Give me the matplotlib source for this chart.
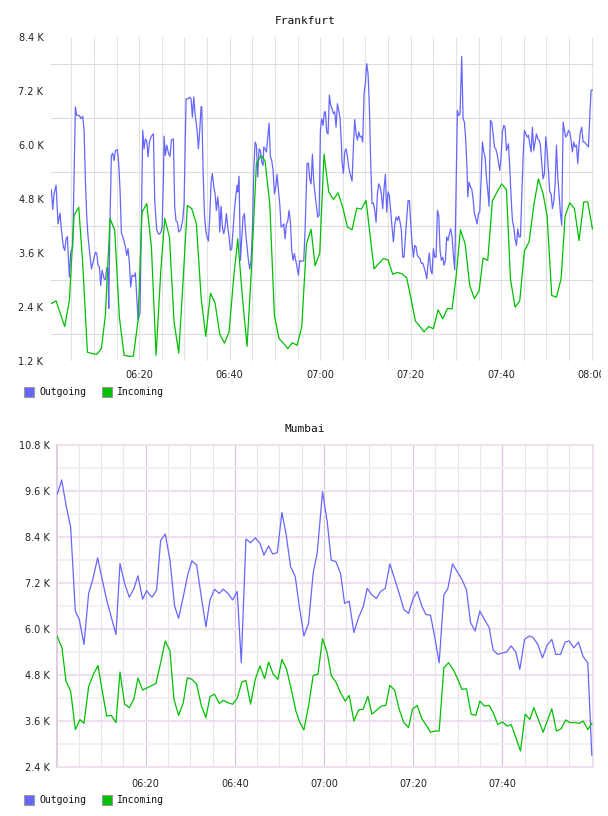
import matplotlib
matplotlib.use('Agg')
import matplotlib.pyplot as plt
from matplotlib.patches import Rectangle
from matplotlib.transforms import Bbox

# minutes after 06:00, traffic in thousands
frankfurt_out = [
    (0.59, 5.00), (0.88, 4.56), (1.18, 4.91), (1.62, 5.10), (2.06, 4.24), (2.50, 4.48), (2.80, 4.10),
    (3.24, 3.73), (3.53, 3.65), (3.83, 3.91), (4.12, 3.96), (4.56, 3.06), (4.86, 3.61), (5.30, 3.73),
    (5.89, 6.84), (6.19, 6.65), (6.78, 6.65), (7.07, 6.58), (7.51, 6.63), (7.81, 6.32), (8.10, 5.21),
    (8.40, 4.39), (8.69, 3.95), (8.99, 3.65), (9.43, 3.24), (9.87, 3.43), (10.31, 3.61), (10.61, 3.59),
    (10.90, 3.32), (11.19, 3.28), (11.49, 2.87), (11.78, 3.21), (12.23, 3.02), (12.52, 3.00), (12.82, 3.27),
    (13.11, 3.24), (13.26, 2.36), (13.55, 4.39), (13.85, 5.76), (14.14, 5.81), (14.44, 5.65), (14.73, 5.87),
    (15.17, 5.89), (15.47, 5.58), (15.76, 4.99), (16.06, 4.04), (16.50, 3.91), (16.94, 3.73), (17.24, 3.54),
    (17.53, 3.69), (17.83, 3.36), (18.12, 2.84), (18.41, 3.10), (18.86, 3.07), (19.15, 3.15), (19.45, 2.61),
    (19.74, 2.11), (20.18, 2.28), (20.77, 6.32), (21.07, 5.91), (21.36, 6.13), (21.66, 6.08), (21.95, 5.73),
    (22.25, 6.06), (22.69, 6.19), (23.13, 6.24), (23.42, 4.76), (23.87, 4.10), (24.31, 4.01), (24.75, 4.04),
    (25.05, 4.17), (25.34, 5.21), (25.49, 6.19), (25.78, 5.76), (26.08, 5.99), (26.52, 5.79), (26.81, 5.74),
    (27.11, 6.10), (27.55, 6.13), (27.84, 4.61), (28.14, 4.30), (28.43, 4.28), (28.73, 4.06), (29.17, 4.11),
    (29.61, 4.33), (29.91, 4.69), (30.35, 7.02), (30.87, 7.02), (31.16, 7.06), (31.46, 7.02), (31.75, 6.61),
    (32.05, 7.06), (32.34, 6.69), (32.78, 6.32), (33.08, 5.91), (33.37, 6.32), (33.67, 6.84), (33.81, 6.85),
    (34.11, 5.43), (34.40, 4.47), (34.70, 4.10), (34.99, 3.95), (35.29, 3.86), (35.58, 4.39), (35.88, 5.17),
    (36.17, 5.36), (36.47, 5.06), (36.76, 4.91), (37.05, 4.54), (37.35, 4.84), (37.64, 4.54), (37.79, 4.06),
    (38.09, 4.63), (38.38, 4.17), (38.68, 4.02), (38.97, 4.17), (39.26, 4.47), (39.56, 4.17), (39.85, 3.95),
    (40.15, 3.65), (40.44, 3.69), (40.74, 4.10), (41.03, 4.54), (41.33, 4.84), (41.62, 5.10), (41.77, 4.95),
    (42.06, 5.30), (42.36, 3.43), (42.65, 3.91), (42.95, 4.39), (43.24, 4.47), (43.54, 4.02), (43.83, 3.73),
    (44.13, 3.43), (44.42, 3.24), (44.72, 3.43), (45.01, 4.10), (45.31, 5.43), (45.60, 6.06), (45.89, 5.99),
    (46.19, 5.28), (46.48, 5.91), (46.78, 5.87), (47.07, 5.61), (47.37, 5.54), (47.52, 5.95), (47.81, 5.91),
    (48.11, 5.84), (48.40, 6.17), (48.69, 6.48), (48.99, 5.73), (49.28, 5.65), (49.58, 5.43), (49.87, 4.91),
    (50.17, 5.06), (50.46, 5.34), (50.76, 4.99), (51.05, 4.69), (51.35, 4.17), (51.64, 4.19), (51.94, 4.24),
    (52.23, 3.91), (52.53, 4.24), (52.82, 4.30), (53.11, 4.54), (53.41, 4.28), (53.70, 3.65), (54.00, 3.43),
    (54.29, 3.58), (54.59, 3.43), (54.88, 3.28), (55.18, 3.10), (55.47, 3.43), (55.77, 3.41), (56.06, 3.41),
    (56.36, 3.43), (56.65, 4.10), (57.09, 5.58), (57.39, 5.59), (57.68, 5.24), (57.98, 5.13), (58.27, 5.79),
    (58.57, 5.17), (59.01, 4.76), (59.45, 4.39), (59.75, 4.43), (60.04, 6.32), (60.33, 6.58), (60.63, 6.43),
    (60.92, 6.73), (61.14, 6.73), (61.43, 6.28), (61.73, 6.24), (62.02, 7.10), (62.32, 6.87), (62.61, 6.80),
    (62.91, 6.69), (63.20, 6.73), (63.50, 6.39), (63.79, 6.91), (64.09, 6.76), (64.38, 6.58), (64.67, 6.02),
    (64.82, 5.61), (65.12, 5.36), (65.41, 5.84), (65.71, 5.91), (66.00, 5.73), (66.30, 5.50), (66.59, 5.36),
    (67.03, 5.19), (67.33, 5.95), (67.62, 6.56), (67.92, 6.24), (68.21, 6.10), (68.51, 6.28), (68.80, 6.17),
    (69.09, 6.19), (69.39, 6.06), (69.68, 7.13), (69.98, 7.36), (70.27, 7.80), (70.57, 7.58), (70.86, 6.84),
    (71.16, 5.58), (71.45, 4.69), (71.75, 4.70), (72.04, 4.54), (72.34, 4.28), (72.63, 4.91), (72.93, 5.13),
    (73.22, 5.06), (73.51, 4.91), (73.81, 4.58), (74.10, 5.02), (74.40, 5.34), (74.69, 4.50), (74.99, 4.95),
    (75.28, 4.87), (75.58, 4.50), (75.87, 4.17), (76.17, 3.84), (76.46, 4.21), (76.76, 4.39), (77.05, 4.32),
    (77.35, 4.41), (77.64, 4.28), (77.93, 4.10), (78.23, 3.50), (78.52, 3.50), (78.82, 3.95), (79.11, 4.36),
    (79.41, 4.76), (79.70, 4.76), (80.00, 4.28), (80.29, 3.80), (80.59, 3.50), (80.88, 3.76), (81.18, 3.73),
    (81.47, 3.54), (81.77, 3.50), (82.06, 3.47), (82.35, 3.36), (82.65, 3.37), (82.94, 3.28), (83.24, 3.17),
    (83.53, 3.02), (83.83, 3.36), (84.12, 3.59), (84.42, 3.21), (84.71, 3.13), (85.01, 3.69), (85.30, 3.50),
    (85.60, 3.50), (85.89, 4.54), (86.19, 4.43), (86.48, 3.65), (86.77, 3.43), (87.07, 3.50), (87.36, 3.32),
    (87.66, 3.43), (87.95, 3.95), (88.25, 3.87), (88.54, 4.02), (88.84, 4.13), (89.13, 3.95), (89.43, 3.54),
    (89.72, 3.22), (90.02, 5.02), (90.31, 6.76), (90.60, 6.65), (90.90, 6.69), (91.27, 7.96), (91.57, 6.58),
    (91.86, 6.50), (92.16, 6.10), (92.45, 5.43), (92.60, 4.84), (92.89, 5.17), (93.19, 5.06), (93.48, 5.02),
    (93.78, 4.80), (94.07, 4.47), (94.37, 4.36), (94.66, 4.24), (94.96, 4.47), (95.25, 4.50), (95.55, 5.21),
    (95.84, 6.06), (96.14, 5.84), (96.43, 5.73), (96.72, 5.28), (97.02, 4.99), (97.31, 4.63), (97.61, 6.54),
    (97.90, 6.50), (98.20, 6.24), (98.49, 5.95), (98.79, 5.91), (99.08, 5.80), (99.38, 5.61), (99.67, 5.43),
    (99.97, 5.73), (100.26, 6.28), (100.56, 6.43), (100.85, 6.39), (101.15, 5.87), (101.59, 6.02), (101.88, 5.50),
    (102.18, 4.84), (102.47, 4.32), (102.77, 4.17), (103.06, 3.91), (103.36, 3.76), (103.65, 4.13), (103.94, 3.95),
    (104.24, 3.95), (104.53, 4.84), (104.83, 5.73), (105.12, 6.32), (105.42, 6.24), (105.71, 6.17), (106.01, 6.21),
    (106.30, 6.02), (106.60, 5.84), (106.89, 6.39), (107.19, 5.87), (107.48, 6.06), (107.78, 6.24), (108.07, 6.13),
    (108.36, 6.10), (108.66, 5.99), (108.95, 5.58), (109.25, 5.24), (109.54, 5.36), (109.84, 6.17), (110.13, 5.87),
    (110.43, 5.43), (110.72, 4.95), (111.02, 4.91), (111.31, 4.58), (111.61, 4.73), (111.90, 5.10), (112.20, 5.99),
    (112.49, 5.28), (112.78, 4.91), (113.08, 4.47), (113.37, 4.21), (113.67, 6.50), (113.96, 6.32), (114.26, 6.17),
    (114.55, 6.21), (114.85, 6.32), (115.14, 6.28), (115.44, 6.10), (115.73, 5.84), (116.03, 6.06), (116.32, 5.95),
    (116.62, 5.99), (116.91, 5.58), (117.20, 6.02), (117.50, 6.28), (117.79, 6.39), (118.09, 6.06), (118.38, 6.06),
    (118.68, 6.02), (118.97, 5.99), (119.27, 5.95), (119.56, 6.61), (119.86, 7.21), (120.15, 7.21),
]

frankfurt_in = [
    (0.59, 2.47), (1.62, 2.53), (3.53, 1.96), (4.56, 2.54), (5.60, 4.43), (6.63, 4.61), (7.51, 3.36),
    (8.54, 1.39), (9.57, 1.36), (10.61, 1.34), (11.64, 1.47), (12.52, 2.21), (13.55, 4.36), (14.58, 4.10),
    (15.61, 2.17), (16.65, 1.32), (17.68, 1.30), (18.71, 1.30), (19.74, 2.10), (20.62, 4.50), (21.66, 4.69),
    (22.69, 3.73), (23.72, 1.32), (24.75, 3.17), (25.63, 4.36), (26.67, 3.95), (27.70, 2.06), (28.73, 1.37),
    (29.61, 2.84), (30.64, 4.65), (31.60, 4.58), (32.63, 4.24), (33.67, 2.61), (34.70, 1.74), (35.73, 2.70),
    (36.76, 2.48), (37.79, 1.79), (38.82, 1.59), (39.85, 1.84), (40.89, 3.06), (41.77, 3.91), (42.80, 2.61),
    (43.83, 1.52), (44.86, 3.36), (45.89, 5.58), (46.93, 5.76), (47.81, 5.64), (48.84, 4.69), (49.87, 2.21),
    (50.90, 1.69), (51.94, 1.58), (52.82, 1.47), (53.85, 1.60), (54.88, 1.54), (55.91, 1.95), (56.95, 3.80),
    (57.98, 4.12), (58.86, 3.31), (59.89, 3.59), (60.84, 5.79), (61.88, 4.95), (62.91, 4.78), (63.94, 4.93),
    (64.97, 4.61), (66.00, 4.17), (67.03, 4.11), (68.06, 4.59), (69.09, 4.57), (70.13, 4.76), (71.00, 4.00),
    (71.89, 3.24), (72.93, 3.36), (73.96, 3.47), (74.99, 3.44), (76.02, 3.12), (77.05, 3.16), (78.08, 3.13),
    (79.11, 3.04), (80.00, 2.61), (81.03, 2.08), (82.06, 1.96), (82.94, 1.84), (83.98, 1.96), (85.01, 1.91),
    (86.04, 2.33), (87.07, 2.13), (88.10, 2.36), (89.13, 2.35), (90.02, 3.06), (90.98, 4.11), (92.01, 3.80),
    (93.04, 2.87), (94.07, 2.58), (95.10, 2.75), (95.99, 3.48), (97.02, 3.43), (98.05, 4.75), (99.08, 4.95),
    (100.11, 5.13), (101.15, 5.00), (102.03, 3.02), (103.06, 2.39), (104.09, 2.53), (105.12, 3.64),
    (106.15, 3.84), (107.19, 4.65), (108.22, 5.24), (109.25, 4.91), (110.13, 4.43), (111.16, 2.65),
    (112.20, 2.61), (113.23, 3.02), (114.11, 4.41), (115.14, 4.71), (116.17, 4.58), (117.20, 3.87),
    (118.24, 4.73), (119.12, 4.73), (120.15, 4.13),
]

mumbai_out = [
    (0.19, 9.51), (1.16, 9.88), (2.13, 9.23), (3.18, 8.64), (4.22, 6.46), (5.12, 6.24), (6.16, 5.59),
    (7.21, 6.92), (8.11, 7.27), (9.23, 7.85), (10.20, 7.31), (11.25, 6.75), (12.29, 6.30), (13.34, 5.85),
    (14.24, 7.70), (15.28, 7.18), (16.33, 6.82), (17.37, 7.05), (18.27, 7.38), (19.32, 6.77), (20.22, 6.99),
    (21.41, 6.82), (22.46, 7.01), (23.35, 8.30), (24.40, 8.47), (25.45, 7.79), (26.49, 6.59), (27.39, 6.27),
    (28.44, 6.84), (29.48, 7.43), (30.38, 7.77), (31.43, 7.66), (32.47, 6.84), (33.52, 6.05), (34.42, 6.75),
    (35.46, 7.03), (36.51, 6.92), (37.41, 7.03), (38.45, 6.92), (39.50, 6.75), (40.54, 6.97), (41.44, 5.11),
    (42.49, 8.34), (43.53, 8.24), (44.58, 8.37), (45.63, 8.23), (46.52, 7.92), (47.57, 8.16), (48.47, 7.95),
    (49.51, 7.98), (50.56, 9.03), (51.46, 8.49), (52.50, 7.62), (53.55, 7.36), (54.44, 6.60), (55.49, 5.81),
    (56.53, 6.14), (57.58, 7.46), (58.48, 7.98), (59.67, 9.57), (60.72, 8.79), (61.62, 7.79), (62.66, 7.75),
    (63.71, 7.44), (64.61, 6.66), (65.65, 6.72), (66.70, 5.90), (67.75, 6.29), (68.79, 6.57), (69.69, 7.05),
    (70.74, 6.88), (71.78, 6.79), (72.68, 6.97), (73.73, 7.05), (74.77, 7.69), (75.82, 7.31), (76.86, 6.92),
    (77.91, 6.50), (78.96, 6.40), (80.00, 6.79), (80.90, 6.97), (81.95, 6.59), (82.84, 6.37), (83.89, 6.35),
    (84.79, 5.81), (85.83, 5.11), (86.88, 6.88), (87.78, 7.05), (88.82, 7.69), (89.87, 7.49), (90.91, 7.29),
    (91.96, 7.01), (92.86, 6.16), (93.90, 5.94), (94.95, 6.46), (96.00, 6.24), (97.04, 6.03), (97.94, 5.44),
    (98.99, 5.33), (100.03, 5.37), (100.93, 5.39), (101.98, 5.55), (103.02, 5.39), (103.92, 4.94),
    (104.97, 5.72), (106.01, 5.81), (106.91, 5.77), (107.96, 5.59), (109.00, 5.24), (110.05, 5.57),
    (111.09, 5.72), (111.99, 5.33), (113.04, 5.33), (114.08, 5.65), (114.98, 5.68), (116.03, 5.50),
    (117.07, 5.65), (118.12, 5.27), (119.17, 5.11), (120.06, 2.70),
]

mumbai_in = [
    (0.19, 5.79), (1.23, 5.50), (2.13, 4.63), (3.18, 4.37), (4.22, 3.37), (5.27, 3.63), (6.16, 3.53),
    (7.21, 4.49), (8.26, 4.81), (9.30, 5.04), (10.20, 4.42), (11.25, 3.72), (12.29, 3.74), (13.34, 3.55),
    (14.24, 4.87), (15.28, 4.03), (16.33, 3.94), (17.37, 4.17), (18.27, 4.71), (19.32, 4.40), (20.36, 4.46),
    (21.41, 4.52), (22.31, 4.57), (23.35, 5.11), (24.40, 5.68), (25.45, 5.42), (26.34, 4.16), (27.39, 3.74),
    (28.44, 4.07), (29.33, 4.72), (30.38, 4.68), (31.43, 4.55), (32.47, 4.00), (33.52, 3.68), (34.42, 4.23),
    (35.46, 4.29), (36.51, 4.05), (37.41, 4.13), (38.45, 4.07), (39.50, 4.03), (40.54, 4.19), (41.59, 4.61),
    (42.49, 4.65), (43.53, 4.03), (44.58, 4.68), (45.63, 5.03), (46.67, 4.70), (47.57, 5.13), (48.62, 4.81),
    (49.66, 4.68), (50.56, 5.20), (51.61, 4.94), (52.65, 4.42), (53.70, 3.85), (54.59, 3.55), (55.49, 3.36),
    (56.53, 3.98), (57.58, 4.78), (58.63, 4.81), (59.67, 5.74), (60.72, 5.37), (61.62, 4.78), (62.66, 4.61),
    (63.71, 4.33), (64.76, 4.11), (65.65, 4.26), (66.70, 3.59), (67.75, 3.88), (68.79, 3.90), (69.84, 4.24),
    (70.74, 3.77), (71.78, 3.87), (72.83, 3.98), (73.87, 4.00), (74.77, 4.52), (75.82, 4.40), (76.86, 3.90),
    (77.91, 3.55), (78.96, 3.42), (79.85, 3.90), (80.90, 4.00), (81.95, 3.65), (82.84, 3.50), (83.89, 3.30),
    (84.94, 3.33), (85.83, 3.33), (86.88, 4.98), (87.93, 5.11), (88.97, 4.94), (89.87, 4.72), (90.91, 4.42),
    (91.96, 4.43), (93.00, 3.77), (94.05, 3.74), (94.95, 4.11), (95.99, 3.98), (97.04, 4.00), (97.94, 3.81),
    (98.99, 3.50), (100.03, 3.57), (101.08, 3.46), (101.98, 3.50), (103.02, 3.16), (104.07, 2.81),
    (105.12, 3.77), (106.16, 3.63), (107.06, 3.94), (108.11, 3.62), (109.15, 3.30), (110.20, 3.63),
    (111.09, 3.91), (112.14, 3.33), (113.19, 3.39), (114.23, 3.62), (115.13, 3.55), (116.18, 3.55),
    (117.22, 3.53), (118.12, 3.59), (119.17, 3.37), (120.06, 3.53),
]

frankfurt_yticks = [1.2, 2.4, 3.6, 4.8, 6.0, 7.2, 8.4]
mumbai_yticks = [2.4, 3.6, 4.8, 6.0, 7.2, 8.4, 9.6, 10.8]
frankfurt_xticks = [20, 40, 60, 80, 100, 120]
mumbai_xticks = [20, 40, 60, 80, 100]
series_names = ['Outgoing', 'Incoming']

W, H = 608, 816
OUT_COLOR = '#6666ff'
IN_COLOR = '#00c000'
MONO = 'DejaVu Sans Mono'


def px_axes(fig, x0, y0, x1, y1):
    return fig.add_axes([x0 / W, 1 - y1 / H, (x1 - x0) / W, (y1 - y0) / H])


def time_label(m):
    return '%02d:%02d' % (6 + m // 60, m % 60)


def plot_series(ax, out_pts, in_pts):
    ot, ov = zip(*out_pts)
    it, iv = zip(*in_pts)
    ax.plot(ot, ov, color=OUT_COLOR, lw=0.9, zorder=3)
    ax.plot(it, iv, color=IN_COLOR, lw=0.9, zorder=4)


def style_ticks(ax, xticks, yticks, xpad, ypad):
    ax.set_xticks(xticks)
    ax.set_xticklabels([time_label(m) for m in xticks])
    ax.set_yticks(yticks)
    ax.set_yticklabels(['%.1f K' % v for v in yticks])
    ax.tick_params(axis='x', length=0, pad=xpad, labelsize=7, labelcolor='#222222')
    ax.tick_params(axis='y', length=0, pad=ypad, labelsize=7, labelcolor='#222222')


def draw_legend(fig, yc):
    for name, color, x in [(series_names[0], OUT_COLOR, 24), (series_names[1], IN_COLOR, 102)]:
        fig.patches.append(Rectangle((x / W, 1 - (yc + 5) / H), 10 / W, 10 / H,
                                     transform=fig.transFigure, facecolor=color,
                                     edgecolor='#999999', lw=0.8))
        fig.text((x + 15) / W, 1 - yc / H, name, fontsize=7, family=MONO,
                 va='center', ha='left', color='#111111')


fig = plt.figure(figsize=(W / 100, H / 100), dpi=100)

# Frankfurt
ax1 = px_axes(fig, 51, 36.7, 594, 360.7)
ax1.set_xlim(0.5, 120.5)
ax1.set_ylim(1.2, 8.4)
for sp in ax1.spines.values():
    sp.set_visible(False)
for m in range(5, 121, 5):
    ax1.axvline(m, color='#e2e2e2', lw=0.8, zorder=1)
for v in [1.8, 3.0, 4.2, 5.4, 6.6, 7.8]:
    ax1.axhline(v, color='#dcdcdc', lw=0.8, zorder=1)
plot_series(ax1, frankfurt_out, frankfurt_in)
style_ticks(ax1, frankfurt_xticks, frankfurt_yticks, 6.5, 5.5)
# the last time label is cut off by the canvas edge in the original
canvas_clip = Bbox([[0, 0], [601, H]])
for lab in ax1.get_xticklabels():
    lab.set_clip_box(canvas_clip)
    lab.set_clip_on(True)
fig.text(305 / W, 1 - 20.5 / H, 'Frankfurt', fontsize=8, family=MONO,
         ha='center', va='center', color='#111111')
draw_legend(fig, 392.3)

# Mumbai
ax2 = px_axes(fig, 56.5, 444.7, 593.3, 766.7)
ax2.set_xlim(0, 120.4)
ax2.set_ylim(2.4, 10.8)
for sp in ax2.spines.values():
    sp.set_color('#eadcea')
    sp.set_linewidth(1.2)
ax2.spines['left'].set_color('#dcc4dc')
for m in range(5, 120, 5):
    if m % 20 == 0:
        ax2.axvline(m, color='#dcc4dc', lw=0.9, zorder=1)
    else:
        ax2.axvline(m, color='#ebe3eb', lw=0.8, zorder=1)
for k in range(1, 14):
    v = 2.4 + 0.6 * k
    if k % 2 == 0:
        ax2.axhline(v, color='#efe0ef', lw=1.5, zorder=1)
    else:
        ax2.axhline(v, color='#f3eff3', lw=1.5, zorder=1)
plot_series(ax2, mumbai_out, mumbai_in)
style_ticks(ax2, mumbai_xticks, mumbai_yticks, 8.5, 4.7)
fig.text(305 / W, 1 - 429 / H, 'Mumbai', fontsize=8, family=MONO,
         ha='center', va='center', color='#111111')
draw_legend(fig, 800.3)

fig.savefig('out.png', dpi=100)
